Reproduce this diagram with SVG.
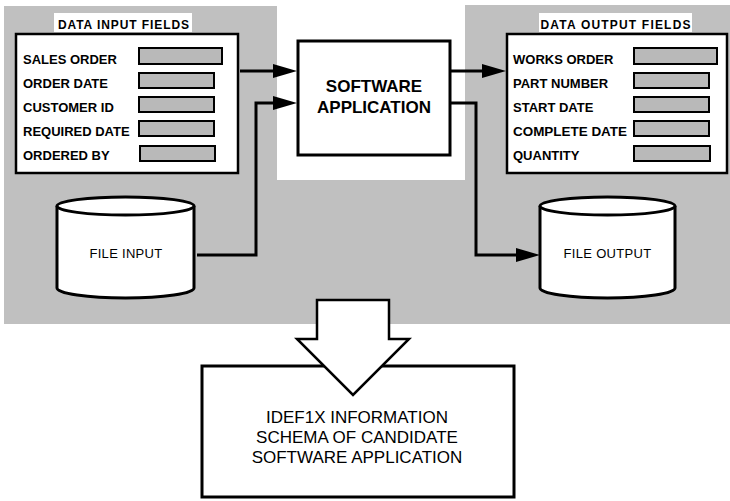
<svg xmlns="http://www.w3.org/2000/svg" width="730" height="501" viewBox="0 0 730 501">
  <style>
    .panel { fill: #ffffff; stroke: #000000; stroke-width: 2.5; }
    .field { fill: #b9b9b9; stroke: #000000; stroke-width: 2; }
    .box { fill: #ffffff; stroke: #000000; stroke-width: 3; }
    .drum { fill: #ffffff; stroke: #000000; stroke-width: 3; }
    .lbl { font-family: "Liberation Sans", Arial, sans-serif; font-size: 13px; font-weight: bold; fill: #000000; }
    .title { font-family: "Liberation Sans", Arial, sans-serif; font-size: 12px; font-weight: bold; fill: #000000; text-anchor: middle; }
    .drumtxt { font-family: "Liberation Sans", Arial, sans-serif; font-size: 13px; fill: #000000; text-anchor: middle; letter-spacing: 0.3px; }
    .big { font-family: "Liberation Sans", Arial, sans-serif; font-size: 17px; fill: #000000; text-anchor: middle; }
    .conn { fill: none; stroke: #000000; stroke-width: 3; }
  </style>
  <defs>
    <marker id="head" markerUnits="userSpaceOnUse" markerWidth="24" markerHeight="14" refX="16" refY="7" orient="auto" viewBox="0 0 24 14">
      <path d="M0,0 L24,7 L0,14 Z" fill="#000000"/>
    </marker>
  </defs>

  <rect width="730" height="501" fill="#ffffff"/>

  <!-- shaded context area, open around the application box -->
  <path d="M4,6 H277 V180 H465 V5 H730 V324 H4 Z" fill="#c0c0c0"/>

  <g id="data-input-fields">
    <rect x="54" y="13" width="138" height="19" fill="#ffffff"/>
    <text class="title" x="123.5" y="29" textLength="131" lengthAdjust="spacing">DATA INPUT FIELDS</text>
    <rect class="panel" x="16" y="34" width="222" height="139"/>
    <text class="lbl" x="23" y="64">SALES ORDER</text>
    <rect class="field" x="139" y="48" width="83" height="16"/>
    <text class="lbl" x="23" y="88">ORDER DATE</text>
    <rect class="field" x="139" y="73" width="75" height="15"/>
    <text class="lbl" x="23" y="112">CUSTOMER ID</text>
    <rect class="field" x="139" y="97" width="75" height="15"/>
    <text class="lbl" x="23" y="136">REQUIRED DATE</text>
    <rect class="field" x="139" y="121" width="75" height="15"/>
    <text class="lbl" x="23" y="160">ORDERED BY</text>
    <rect class="field" x="140" y="146" width="75" height="15"/>
  </g>

  <g id="software-application">
    <rect class="box" x="298" y="41" width="152" height="114"/>
    <text class="big" x="374" y="91.5" font-weight="bold">SOFTWARE</text>
    <text class="big" x="374" y="113" font-weight="bold">APPLICATION</text>
  </g>

  <g id="data-output-fields">
    <rect x="539" y="13" width="153" height="19" fill="#ffffff"/>
    <text class="title" x="615.5" y="29" textLength="150" lengthAdjust="spacing">DATA OUTPUT FIELDS</text>
    <rect class="panel" x="507" y="34" width="220" height="139"/>
    <text class="lbl" x="513" y="64">WORKS ORDER</text>
    <rect class="field" x="634" y="48" width="83" height="16"/>
    <text class="lbl" x="513" y="88">PART NUMBER</text>
    <rect class="field" x="634" y="73" width="75" height="15"/>
    <text class="lbl" x="513" y="112">START DATE</text>
    <rect class="field" x="634" y="97" width="75" height="15"/>
    <text class="lbl" x="513" y="136" textLength="114" lengthAdjust="spacingAndGlyphs">COMPLETE DATE</text>
    <rect class="field" x="634" y="121" width="75" height="15"/>
    <text class="lbl" x="513" y="160">QUANTITY</text>
    <rect class="field" x="634" y="146" width="76" height="15"/>
  </g>

  <g id="file-input">
    <path class="drum" d="M57,206 A68.5,9 0 0 1 194,206 V288 A68.5,10 0 0 1 57,288 Z"/>
    <path class="drum" d="M57,206 A68.5,9 0 0 0 194,206" fill="none"/>
    <text class="drumtxt" x="126" y="258">FILE INPUT</text>
  </g>

  <g id="file-output">
    <path class="drum" d="M540,206 A67.5,9 0 0 1 675,206 V288 A67.5,10 0 0 1 540,288 Z"/>
    <path class="drum" d="M540,206 A67.5,9 0 0 0 675,206" fill="none"/>
    <text class="drumtxt" x="607.5" y="258">FILE OUTPUT</text>
  </g>

  <g id="connectors">
    <path class="conn" d="M240,71 H289" marker-end="url(#head)"/>
    <path class="conn" d="M197,255 H256 V103 H289" marker-end="url(#head)"/>
    <path class="conn" d="M450,71 H498" marker-end="url(#head)"/>
    <path class="conn" d="M450,103 H476 V255 H532" marker-end="url(#head)"/>
  </g>

  <g id="idef1x-schema">
    <rect class="box" x="202" y="366" width="312" height="131" stroke-width="2.5"/>
    <text class="big" x="357" y="423">IDEF1X INFORMATION</text>
    <text class="big" x="357" y="443">SCHEMA OF CANDIDATE</text>
    <text class="big" x="357" y="463">SOFTWARE APPLICATION</text>
  </g>

  <g id="derivation-arrow">
    <polygon points="317,300 389,300 389,339 409,339 353,395 297,339 317,339" fill="#ffffff" stroke="#000000" stroke-width="2.5" stroke-linejoin="miter"/>
  </g>
</svg>
